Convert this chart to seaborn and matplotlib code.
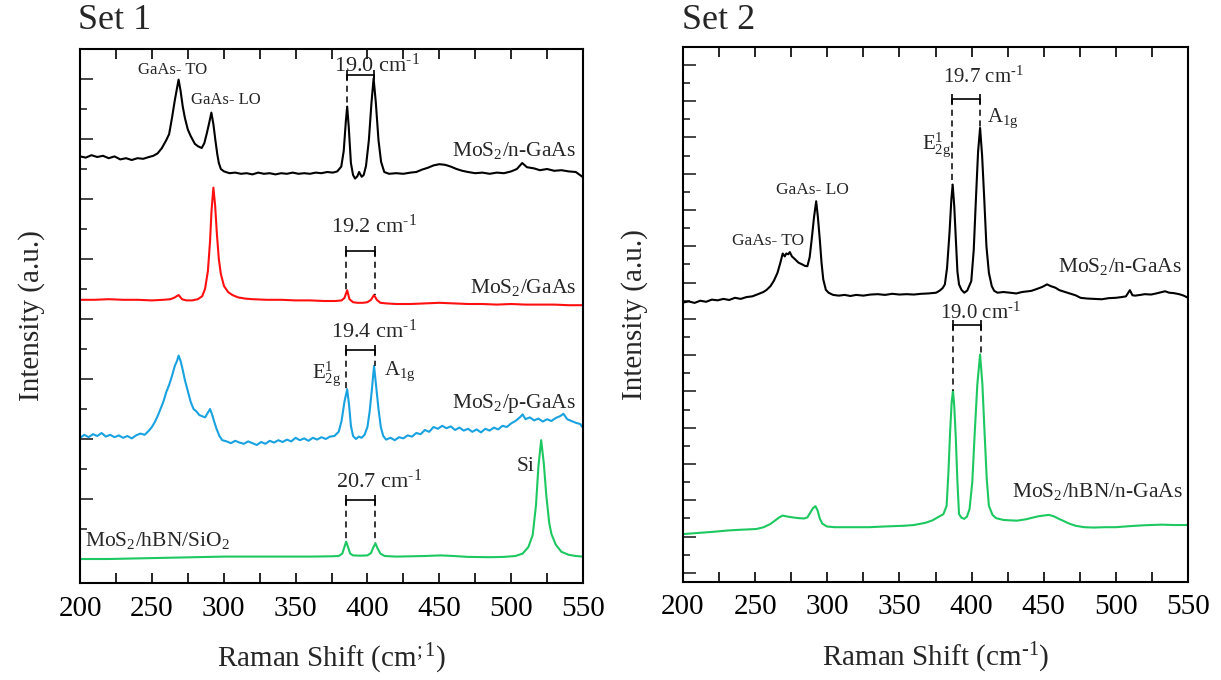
import matplotlib
matplotlib.use("Agg")
import matplotlib.pyplot as plt
import seaborn as sns
import pandas as pd
import numpy as np
from matplotlib.ticker import MultipleLocator

# ---------------- data ----------------
# Set 1 : MoS2/n-GaAs (black)
s1_ngaas_x = [200, 204, 208, 212, 216, 220, 224, 228, 232, 236, 240, 244, 248, 251, 254, 257, 260, 262, 264, 266,
              268.6, 270, 271.5, 273, 275, 277, 279.9, 282, 284.7, 286.5, 288.2, 290, 291.4, 292.8, 294.2, 295.5,
              296.6, 298, 300.2, 304, 308, 312, 316, 320, 324, 328, 332, 336, 340, 344, 348, 352, 356, 360, 364,
              368, 372, 376, 379, 381.8, 383.5, 385, 385.9, 387, 388.5, 390, 391.4, 393, 394.2, 396, 397.4, 399,
              401, 402.8, 404.3, 405.8, 407.7, 409.5, 411.7, 415, 420, 425, 430, 434, 438, 442, 446, 450, 454, 458,
              462, 466, 470, 475, 480, 485, 490, 495, 500, 504, 507.7, 511, 516, 520, 525, 530, 535, 540, 545, 549.6]
s1_ngaas_y = [6.71, 6.69, 6.73, 6.70, 6.72, 6.68, 6.71, 6.66, 6.68, 6.65, 6.68, 6.67, 6.70, 6.72, 6.76, 6.85, 6.98,
              7.08, 7.35, 7.65, 7.99, 7.80, 7.54, 7.35, 7.16, 7.05, 6.92, 6.88, 6.85, 6.93, 7.09, 7.28, 7.44, 7.25,
              6.98, 6.75, 6.60, 6.50, 6.46, 6.43, 6.44, 6.42, 6.43, 6.41, 6.44, 6.42, 6.43, 6.41, 6.43, 6.42, 6.44,
              6.42, 6.43, 6.42, 6.44, 6.43, 6.45, 6.44, 6.46, 6.54, 6.80, 7.30, 7.54, 7.20, 6.60, 6.40, 6.34, 6.38,
              6.45, 6.37, 6.40, 6.55, 6.98, 7.60, 8.01, 7.62, 6.98, 6.62, 6.45, 6.42, 6.43, 6.42, 6.44, 6.45, 6.49,
              6.52, 6.56, 6.58, 6.57, 6.54, 6.50, 6.47, 6.45, 6.43, 6.44, 6.42, 6.44, 6.43, 6.46, 6.50, 6.60, 6.53,
              6.51, 6.48, 6.50, 6.47, 6.48, 6.46, 6.45, 6.37]

# Set 1 : MoS2/GaAs (red)
s1_gaas_x = [200, 210, 220, 230, 240, 250, 258, 263, 266, 268.6, 271, 274, 278, 282, 285, 287, 289, 290.5, 291.5,
             292.8, 294, 295.3, 296.6, 298, 300.2, 303, 306, 310, 315, 320, 330, 340, 350, 360, 370, 378, 382, 384,
             385.9, 387.5, 390, 393, 397, 400, 402.5, 404.6, 406.5, 409, 413, 420, 430, 440, 450, 460, 470, 480, 490,
             500, 510, 520, 530, 540, 549.6]
s1_gaas_y = [4.32, 4.32, 4.33, 4.32, 4.32, 4.31, 4.32, 4.33, 4.36, 4.40, 4.33, 4.31, 4.31, 4.33, 4.38, 4.50, 4.80,
             5.30, 5.80, 6.19, 5.90, 5.40, 5.00, 4.75, 4.55, 4.45, 4.40, 4.36, 4.34, 4.33, 4.32, 4.32, 4.31, 4.31,
             4.30, 4.30, 4.31, 4.35, 4.48, 4.33, 4.28, 4.27, 4.27, 4.28, 4.32, 4.40, 4.32, 4.27, 4.26, 4.25, 4.25,
             4.26, 4.27, 4.26, 4.25, 4.25, 4.24, 4.25, 4.24, 4.24, 4.24, 4.23, 4.23]

# Set 1 : MoS2/p-GaAs (blue)
s1_pgaas_x = [200, 203, 206, 209, 212, 215, 218, 221, 224, 227, 230, 233, 236, 239, 242, 245, 248, 250, 252, 254,
              256, 258, 260, 262, 264, 266, 267.5, 268.6, 270, 271.5, 273, 275, 277, 279, 281, 283, 285, 287, 289,
              290.5, 292, 293.5, 295, 297, 299, 302, 305, 308, 311, 314, 317, 320, 323, 326, 329, 332, 335, 338,
              341, 344, 347, 350, 353, 356, 359, 362, 365, 368, 371, 374, 377, 380, 382, 384, 385.9, 387.3, 388.5,
              390, 392, 394, 396, 398, 400, 401.5, 403, 404.6, 406.2, 407.7, 409.3, 411, 413, 416, 419, 422, 425,
              428, 431, 434, 437, 440, 443, 446, 449, 452, 455, 458, 461, 464, 467, 470, 473, 476, 479, 482, 485,
              488, 491, 494, 497, 500, 503, 506, 508, 510, 513, 516, 519, 522, 525, 528, 531, 534, 536.4, 539, 542,
              545, 548, 549.6]
s1_pgaas_y = [2.02, 2.07, 2.03, 2.08, 2.05, 2.10, 2.04, 2.07, 2.03, 2.06, 2.02, 2.05, 2.01, 2.06, 2.09, 2.07, 2.14,
              2.20, 2.28, 2.38, 2.50, 2.62, 2.78, 2.90, 3.05, 3.22, 3.30, 3.39, 3.30, 3.15, 2.98, 2.80, 2.62, 2.50,
              2.46, 2.40, 2.38, 2.36, 2.44, 2.50, 2.40, 2.28, 2.17, 2.05, 1.98, 1.96, 1.93, 1.97, 1.94, 1.92, 1.96,
              1.93, 1.90, 1.95, 1.92, 1.97, 1.94, 1.98, 1.95, 1.99, 1.96, 2.02, 1.98, 2.01, 1.97, 2.02, 1.99, 2.03,
              2.00, 2.04, 2.05, 2.12, 2.30, 2.62, 2.83, 2.55, 2.22, 2.05, 2.00, 2.04, 2.02, 2.07, 2.20, 2.45, 2.80,
              3.22, 2.85, 2.50, 2.20, 2.05, 1.99, 2.02, 1.98, 2.03, 2.01, 2.06, 2.04, 2.10, 2.08, 2.15, 2.12, 2.20,
              2.17, 2.22, 2.18, 2.21, 2.15, 2.19, 2.14, 2.17, 2.12, 2.16, 2.11, 2.17, 2.14, 2.19, 2.16, 2.22, 2.20,
              2.26, 2.30, 2.36, 2.41, 2.33, 2.36, 2.31, 2.34, 2.29, 2.33, 2.30, 2.35, 2.38, 2.42, 2.33, 2.30, 2.27,
              2.25, 2.20]

# Set 1 : MoS2/hBN/SiO2 (green)
s1_sio2_x = [200, 220, 240, 260, 280, 300, 320, 340, 360, 375, 380, 382.5, 384, 385.2, 386.5, 388, 390, 395, 400,
             402.5, 404.2, 405.6, 407, 409, 412, 420, 430, 440, 451, 460, 470, 485, 495, 503, 508, 512, 515, 517.3,
             519, 520.9, 522.7, 524.5, 526.5, 528, 531, 535, 540, 545, 549.6]
s1_sio2_y = [0.00, 0.00, 0.01, 0.02, 0.03, 0.04, 0.04, 0.04, 0.04, 0.045, 0.05, 0.09, 0.20, 0.29, 0.20, 0.09, 0.06,
             0.055, 0.06, 0.10, 0.20, 0.26, 0.18, 0.09, 0.05, 0.04, 0.045, 0.05, 0.06, 0.05, 0.035, 0.03, 0.035,
             0.05, 0.09, 0.20, 0.40, 0.90, 1.55, 1.98, 1.60, 1.05, 0.60, 0.42, 0.24, 0.12, 0.07, 0.05, 0.04]

# Set 2 : MoS2/n-GaAs (black)
s2_ngaas_x = [200, 204, 208, 212, 216, 220, 224, 228, 232, 236, 240, 244, 248, 252, 255.7, 258, 260.6, 263, 265.5,
              267.5, 269.1, 270.5, 271.6, 273, 274, 275.5, 277.7, 280, 282.6, 284.5, 286.2, 287.8, 289.2, 290.8,
              292.3, 293.5, 294.8, 296, 297.2, 299, 300.9, 304, 308, 312, 316, 320, 325, 330, 335, 340, 345, 350,
              355, 360, 365, 370, 375.4, 378, 380, 381.5, 383, 384.7, 386, 386.9, 388, 389.1, 390.2, 391.3, 393,
              394.9, 397, 399.8, 401.5, 403, 404.5, 405.9, 407.3, 408.8, 410.3, 412, 414, 415.7, 418, 422, 426.7,
              431, 435, 441.3, 445, 449, 452.3, 455, 458, 460.9, 464, 468, 472, 475.5, 480, 485, 490.2, 495, 500,
              504, 507, 509.7, 511.5, 513.4, 517, 520, 524.4, 528, 531, 534.1, 537, 540, 543.9, 547, 550]
s2_ngaas_y = [7.45, 7.48, 7.44, 7.50, 7.47, 7.53, 7.51, 7.55, 7.52, 7.58, 7.55, 7.60, 7.62, 7.68, 7.74, 7.80, 7.90,
              8.05, 8.27, 8.55, 8.80, 8.72, 8.80, 8.78, 8.84, 8.72, 8.64, 8.55, 8.50, 8.46, 8.45, 8.70, 9.19, 9.80,
              10.24, 9.80, 9.19, 8.55, 8.09, 7.80, 7.72, 7.66, 7.64, 7.66, 7.63, 7.66, 7.64, 7.67, 7.68, 7.66, 7.69,
              7.67, 7.68, 7.67, 7.69, 7.70, 7.72, 7.78, 7.85, 7.95, 8.40, 9.37, 10.30, 10.70, 10.10, 9.19, 8.30,
              7.95, 7.80, 7.72, 7.78, 8.04, 8.90, 10.29, 11.60, 12.26, 11.50, 10.29, 9.00, 8.27, 7.90, 7.77, 7.72,
              7.74, 7.72, 7.70, 7.74, 7.77, 7.82, 7.88, 7.95, 7.90, 7.86, 7.79, 7.75, 7.70, 7.65, 7.58, 7.56, 7.55,
              7.54, 7.57, 7.58, 7.60, 7.62, 7.79, 7.65, 7.64, 7.66, 7.68, 7.67, 7.70, 7.73, 7.76, 7.72, 7.71, 7.68,
              7.64, 7.58]

# Set 2 : MoS2/hBN/n-GaAs (green)
s2_hbn_x = [200, 210, 220, 231.3, 240, 250.8, 256, 260.6, 264, 266.7, 269.1, 272.8, 276, 280, 284, 286.2, 288.5,
            290, 291.8, 293.3, 294.8, 296.5, 299.7, 305, 315, 329, 340, 353.4, 360, 368, 373, 377.8, 380.5, 382.7,
            384, 385.1, 386.2, 387.1, 388, 389.1, 390.2, 391.3, 393, 394.9, 396.8, 398.6, 400.5, 402.2, 404, 405.9,
            407.5, 409, 410.5, 412, 414.5, 416.9, 422, 426, 431.6, 438, 442, 446.2, 450, 453.5, 457, 460, 463.3,
            467, 472, 478, 485, 492, 500, 510, 518, 524.4, 532, 540, 550]
s2_hbn_y = [1.07, 1.10, 1.13, 1.17, 1.19, 1.21, 1.26, 1.35, 1.45, 1.53, 1.58, 1.55, 1.53, 1.51, 1.50, 1.53, 1.68,
            1.78, 1.84, 1.72, 1.50, 1.36, 1.28, 1.26, 1.26, 1.26, 1.28, 1.30, 1.32, 1.38, 1.45, 1.56, 1.62, 1.85,
            2.80, 3.87, 4.70, 5.02, 4.60, 3.69, 2.50, 1.62, 1.52, 1.49, 1.55, 1.76, 2.50, 3.87, 5.20, 6.02, 5.20,
            3.87, 2.60, 1.85, 1.60, 1.51, 1.46, 1.45, 1.44, 1.48, 1.52, 1.56, 1.58, 1.60, 1.56, 1.50, 1.44, 1.37,
            1.30, 1.26, 1.25, 1.26, 1.26, 1.29, 1.31, 1.32, 1.33, 1.32, 1.32]

# peak-separation annotations
set1_sep_labels = ["19.0", "19.2", "19.4", "20.7"]
set1_sep_e2g = [385.9, 385.2, 385.4, 384.8]
set1_sep_a1g = [404.3, 405.6, 405.6, 405.6]
set1_sep_bar_y = [8.06, 5.14, 3.49, 0.98]
set1_sep_e2g_end = [7.54, 4.46, 2.83, 0.29]
set1_sep_a1g_end = [8.01, 4.40, 3.22, 0.26]
set1_sep_text_x = [377.0, 374.6, 374.6, 378.2]
set1_sep_text_y = [8.12, 5.43, 3.69, 1.18]

set2_sep_labels = ["19.7", "19.0"]
set2_sep_e2g = [386.7, 386.8]
set2_sep_a1g = [405.6, 406.4]
set2_sep_bar_y = [13.05, 6.82]
set2_sep_e2g_end = [10.70, 5.02]
set2_sep_a1g_end = [12.26, 6.02]
set2_sep_text_x = [380.3, 377.8]
set2_sep_text_y = [13.51, 6.99]

x_ticks = [200, 250, 300, 350, 400, 450, 500, 550]

# ---------------- style ----------------
sns.set_theme(style="ticks")
plt.rcParams["font.family"] = ["Liberation Serif", "DejaVu Serif"]
plt.rcParams["mathtext.fontset"] = "custom"
plt.rcParams["mathtext.rm"] = "Liberation Serif"
plt.rcParams["mathtext.it"] = "Liberation Serif:italic"
plt.rcParams["mathtext.bf"] = "Liberation Serif:bold"

BLACK = "#000000"
RED = "#ff1010"
BLUE = "#19a2e0"
GREEN = "#1dc861"

fig = plt.figure(figsize=(12.21, 6.80), dpi=100)
ax1 = fig.add_axes([80 / 1221, 97 / 680, 503 / 1221, 534 / 680])
ax2 = fig.add_axes([683 / 1221, 98 / 680, 505 / 1221, 535 / 680])


def draw(ax, xs, ys, color):
    df = pd.DataFrame({"x": xs, "y": ys})
    sns.lineplot(data=df, x="x", y="y", ax=ax, color=color, lw=1.5, sort=False, estimator=None)


draw(ax1, s1_ngaas_x, s1_ngaas_y, BLACK)
draw(ax1, s1_gaas_x, s1_gaas_y, RED)
draw(ax1, s1_pgaas_x, s1_pgaas_y, BLUE)
draw(ax1, s1_sio2_x, s1_sio2_y, GREEN)
draw(ax2, s2_ngaas_x, s2_ngaas_y, BLACK)
draw(ax2, s2_hbn_x, s2_hbn_y, GREEN)

SUP = r" cm$^{\text{-1}}$"


def separations(ax, labels, e2g, a1g, bar_y, e_end, a_end, tx, ty, fs):
    for i in range(len(labels)):
        ax.plot([e2g[i], a1g[i]], [bar_y[i], bar_y[i]], color="black", lw=1.2,
                marker="|", markersize=7, markeredgewidth=1.2)
        ax.plot([e2g[i], e2g[i]], [bar_y[i], e_end[i]], color="black", lw=1.1, ls=(0, (4, 3)))
        ax.plot([a1g[i], a1g[i]], [bar_y[i], a_end[i]], color="black", lw=1.1, ls=(0, (4, 3)))
        ax.text(tx[i], ty[i], labels[i] + SUP, fontsize=fs, ha="left", va="baseline")


separations(ax1, set1_sep_labels, set1_sep_e2g, set1_sep_a1g, set1_sep_bar_y, set1_sep_e2g_end,
            set1_sep_a1g_end, set1_sep_text_x, set1_sep_text_y, 16)
separations(ax2, set2_sep_labels, set2_sep_e2g, set2_sep_a1g, set2_sep_bar_y, set2_sep_e2g_end,
            set2_sep_a1g_end, set2_sep_text_x, set2_sep_text_y, 15)

# text labels Set 1
ax1.text(264.7, 8.08, "GaAs- TO", fontsize=12, ha="center", va="baseline")
ax1.text(301.4, 7.58, "GaAs- LO", fontsize=12, ha="center", va="baseline")
ax1.text(545, 6.72, r"MoS$_2$/n-GaAs", fontsize=15.5, ha="right", va="baseline")
ax1.text(545, 4.43, r"MoS$_2$/GaAs", fontsize=15.5, ha="right", va="baseline")
ax1.text(545, 2.51, r"MoS$_2$/p-GaAs", fontsize=15.5, ha="right", va="baseline")
ax1.text(203.8, 0.22, r"MoS$_2$/hBN/SiO$_2$", fontsize=15.5, ha="left", va="baseline")
ax1.text(504, 1.47, "Si", fontsize=15.5, ha="left", va="baseline")
ax1.text(361.4, 3.01, r"E$_{\mathrm{2g}}^{1}$", fontsize=15, ha="left", va="baseline")
ax1.text(411.7, 3.07, r"A$_{\mathrm{1g}}$", fontsize=15, ha="left", va="baseline")

# text labels Set 2
ax2.text(264.2, 10.44, "GaAs- LO", fontsize=12.5, ha="left", va="baseline")
ax2.text(234.2, 9.03, "GaAs- TO", fontsize=12.5, ha="left", va="baseline")
ax2.text(545.9, 8.29, r"MoS$_2$/n-GaAs", fontsize=15.5, ha="right", va="baseline")
ax2.text(546.4, 2.08, r"MoS$_2$/hBN/n-GaAs", fontsize=15.5, ha="right", va="baseline")
ax2.text(365.6, 11.66, r"E$_{\mathrm{2g}}^{1}$", fontsize=15, ha="left", va="baseline")
ax2.text(410.8, 12.41, r"A$_{\mathrm{1g}}$", fontsize=15, ha="left", va="baseline")

# axes formatting
for ax, ylim, xl in [(ax1, (-0.4, 8.5), r"Raman Shift (cm$^{;1}$)"),
                     (ax2, (-0.25, 14.49), r"Raman Shift (cm$^{\text{-1}}$)")]:
    ax.set_xlim(200, 550)
    ax.set_ylim(*ylim)
    ax.set_xticks(x_ticks)
    ax.xaxis.set_minor_locator(MultipleLocator(25))
    ax.yaxis.set_major_locator(MultipleLocator(1))
    ax.yaxis.set_minor_locator(MultipleLocator(0.5))
    ax.set_yticklabels([])
    ax.tick_params(axis="x", which="both", direction="in", top=True, bottom=True,
                   length=7, width=1.2, labelsize=21, pad=9, colors="black")
    ax.tick_params(axis="y", which="major", direction="in", left=True, right=False, length=9, width=1.2)
    ax.tick_params(axis="y", which="minor", direction="in", left=True, right=False, length=5, width=1.2)
    for sp in ax.spines.values():
        sp.set_visible(True)
        sp.set_linewidth(1.5)
        sp.set_color("black")
    ax.set_xlabel(xl, fontsize=21, labelpad=15)
    ax.set_ylabel("Intensity (a.u.)", fontsize=21, labelpad=22)

fig.text(78 / 1221, 1 - 4 / 680, "Set 1", fontsize=26, ha="left", va="top")
fig.text(682 / 1221, 1 - 4 / 680, "Set 2", fontsize=26, ha="left", va="top")

fig.savefig("out.png", dpi=100)
